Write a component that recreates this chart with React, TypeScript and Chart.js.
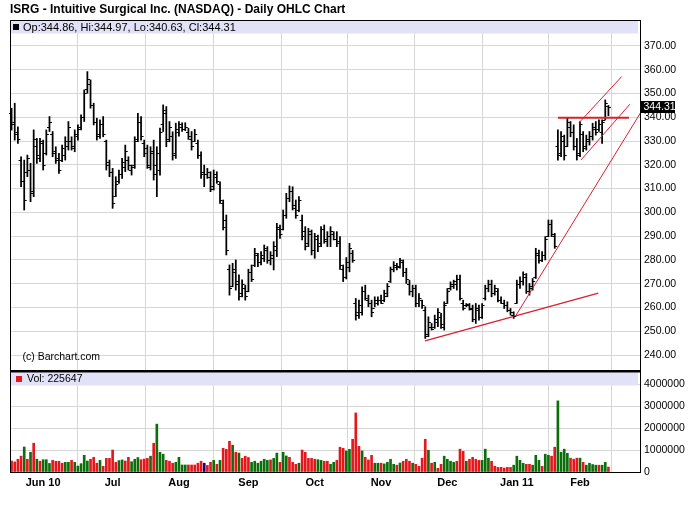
import { useEffect, useRef } from "react"
import { Chart, registerables } from "chart.js"

Chart.register(...registerables)

// one entry per trading day, 17 May 2010 (index 0) .. 14 Feb 2011 (index 189)
const highs = [
  343.8, 345.9, 336.0, 323.4, 322.0, 324.1, 320.6, 334.7, 331.1, 331.1,
  330.4, 334.7, 340.3, 334.0, 327.6, 324.8, 328.3, 331.8, 338.2, 331.8,
  334.7, 336.8, 341.0, 351.5, 359.2, 355.7, 345.9, 339.6, 338.9, 340.3,
  330.4, 322.0, 318.5, 315.0, 317.8, 322.7, 328.3, 323.4, 319.9, 331.8,
  341.7, 340.3, 330.4, 328.3, 327.6, 330.4, 327.6, 335.4, 345.2, 344.5,
  338.2, 333.9, 337.5, 338.2, 337.7, 337.7, 335.4, 334.0, 334.9, 330.4,
  325.5, 319.9, 318.5, 317.1, 317.8, 317.1, 312.9, 305.2, 298.9, 277.9,
  278.6, 280.0, 273.7, 271.6, 269.4, 276.1, 277.9, 284.9, 282.8, 283.5,
  286.3, 285.6, 283.5, 287.7, 295.4, 294.7, 301.0, 308.0, 311.1, 310.8,
  305.2, 306.6, 298.9, 294.0, 293.3, 292.6, 291.2, 290.5, 294.0, 294.7,
  291.9, 294.0, 291.9, 291.9, 289.8, 277.9, 281.0, 287.0, 284.0, 263.8,
  263.1, 268.7, 269.4, 265.2, 263.1, 264.5, 264.5, 265.2, 267.3, 270.1,
  277.0, 279.3, 278.6, 280.7, 280.0, 276.5, 271.5, 269.4, 269.4, 265.9,
  263.1, 260.3, 256.1, 253.3, 256.8, 259.6, 257.5, 262.4, 268.0, 270.8,
  271.5, 273.6, 273.6, 263.1, 261.7, 261.7, 261.0, 261.7, 261.0, 261.7,
  269.4, 271.5, 271.5, 269.4, 268.0, 264.5, 263.1, 262.4, 259.6, 258.2,
  271.5, 272.9, 275.0, 274.3, 270.1, 272.2, 284.9, 284.2, 283.5, 289.8,
  296.8, 296.8, 291.2, 334.7, 334.0, 332.5, 339.6, 338.2, 336.8, 331.1,
  338.2, 334.0, 332.5, 334.0, 337.5, 338.2, 338.9, 338.9, 347.3, 344.97,
]

const lows = [
  334.6, 330.4, 329.0, 310.8, 301.0, 315.0, 304.5, 306.6, 320.6, 321.3,
  317.8, 324.1, 334.0, 323.4, 320.6, 316.4, 321.3, 322.0, 326.2, 326.2,
  325.5, 330.4, 334.7, 338.2, 350.1, 343.8, 336.8, 330.4, 331.1, 331.8,
  317.8, 315.0, 301.7, 306.6, 312.2, 314.3, 317.1, 317.8, 315.7, 318.5,
  329.7, 330.4, 323.4, 318.5, 317.8, 313.6, 306.6, 315.7, 334.0, 327.6,
  329.7, 322.0, 322.7, 332.0, 334.0, 334.4, 330.7, 326.2, 329.8, 322.7,
  314.3, 310.8, 314.3, 308.7, 309.4, 312.2, 303.8, 292.6, 282.1, 265.2,
  268.7, 267.3, 263.1, 264.5, 263.1, 266.6, 270.9, 277.2, 277.2, 277.9,
  279.3, 278.6, 277.9, 275.8, 281.4, 289.1, 292.6, 297.5, 304.5, 301.0,
  297.5, 300.3, 288.4, 284.2, 285.6, 282.1, 280.7, 283.5, 285.6, 287.0,
  285.6, 285.6, 288.4, 285.6, 276.0, 270.9, 272.0, 275.0, 279.0, 254.7,
  255.4, 256.8, 263.1, 260.3, 256.1, 260.3, 261.0, 261.7, 262.4, 264.5,
  270.5, 275.0, 275.8, 276.5, 273.0, 270.1, 265.2, 264.5, 260.3, 260.3,
  259.6, 247.0, 247.7, 250.5, 251.2, 251.9, 251.2, 250.5, 261.7, 267.3,
  268.0, 267.3, 263.1, 258.9, 260.3, 258.9, 254.0, 253.3, 254.7, 255.4,
  263.1, 266.6, 264.5, 265.2, 262.4, 261.7, 259.6, 258.2, 256.8, 255.4,
  261.7, 268.0, 269.4, 265.9, 265.2, 267.3, 272.2, 278.6, 279.3, 280.0,
  289.8, 289.8, 284.9, 322.0, 323.4, 322.0, 327.6, 331.8, 326.2, 322.0,
  323.4, 325.5, 326.2, 328.3, 330.4, 332.5, 334.0, 329.0, 338.9, 340.63,
]

const opens = [
  342, 338, 334, 322, 313, 317, 318, 309, 328, 323,
  329, 325, 336, 333, 326, 323, 322, 324, 328, 330,
  327, 332, 336, 340, 352, 354, 345, 338, 333, 337,
  330, 321, 317, 307, 313, 316, 319, 322, 318, 320,
  331, 338, 329, 327, 319, 326, 320, 318, 337, 342,
  331, 332, 325, 334, 336, 335, 334, 331, 330, 329,
  324, 317, 316, 315, 311, 315, 312, 304, 297, 276,
  269, 275, 271, 266, 268, 267, 275, 278, 282, 279,
  281, 284, 280, 281, 284, 293, 293, 299, 306, 309,
  302, 301, 297, 292, 287, 291, 284, 289, 287, 293,
  288, 290, 291, 289, 288, 276, 273, 277, 283, 262,
  258, 258, 267, 263, 262, 260, 262, 263, 263, 265,
  271, 276, 277, 277, 279, 275, 270, 267, 268, 262,
  263, 259, 249, 252, 252, 254, 256, 252, 262, 268,
  269, 270, 272, 262, 261, 261, 260, 255, 259, 256,
  264, 268, 270, 266, 267, 263, 262, 261, 259, 257,
  262, 270, 271, 273, 267, 268, 273, 282, 280, 282,
  290, 295, 290, 328, 325, 330, 328, 336, 334, 328,
  325, 333, 328, 330, 332, 335, 335, 334, 339, 344.86,
]

const closes = [
  337, 333, 331, 313, 305, 323, 308, 331, 324, 330,
  320, 333, 338, 325, 322, 318, 327, 330, 336, 328,
  333, 335, 340, 350, 356, 345, 338, 332, 337, 333,
  320, 317, 304, 312, 316, 321, 326, 320, 319, 330,
  338, 332, 325, 320, 325, 316, 325, 334, 343, 330,
  336, 324, 335, 337, 335, 336, 332, 328, 333, 324,
  316, 316, 317, 310, 316, 313, 305, 294, 284, 268,
  276, 270, 265, 270, 265, 275, 272, 283, 279, 282,
  285, 280, 282, 286, 294, 291, 299, 306, 309, 303,
  299, 305, 290, 286, 292, 284, 290, 286, 293, 289,
  290, 292, 289, 287, 278, 273, 279, 285, 280, 257,
  261, 267, 264, 262, 258, 263, 263, 262, 266, 269,
  276, 278, 277.5, 280, 275, 272, 267, 268, 262, 264,
  261, 248, 254, 251, 255, 258, 253, 261, 267, 270,
  271, 272, 264, 260, 261.5, 259.5, 255, 260, 256, 261,
  268, 270, 266, 268, 263, 262, 261, 259, 258, 256.5,
  270, 271, 274, 267, 269, 271, 283, 280, 282, 289,
  295, 291, 286, 324, 332, 324, 338, 334, 328, 324,
  337, 327, 331, 332, 336, 334, 337, 338, 346, 344.31,
]

// daily volume in millions of shares
const volumesM = [
  0.50, 0.46, 0.58, 0.72, 1.14, 0.58, 0.90, 1.31, 0.58, 0.49,
  0.56, 0.56, 0.39, 0.53, 0.49, 0.49, 0.40, 0.44, 0.44, 0.53,
  0.44, 0.27, 0.38, 0.76, 0.50, 0.58, 0.67, 0.40, 0.53, 0.26,
  0.62, 0.62, 1.00, 0.44, 0.52, 0.55, 0.50, 0.67, 0.47, 0.58,
  0.66, 0.56, 0.59, 0.62, 0.72, 1.31, 2.18, 0.90, 0.81, 0.53,
  0.49, 0.40, 0.44, 0.67, 0.32, 0.32, 0.32, 0.32, 0.32, 0.40,
  0.49, 0.40, 0.30, 0.44, 0.53, 0.35, 0.53, 1.08, 1.03, 1.40,
  1.22, 0.90, 0.86, 0.62, 0.72, 0.66, 0.44, 0.49, 0.40, 0.49,
  0.58, 0.53, 0.55, 0.62, 0.86, 0.44, 0.90, 0.73, 0.67, 0.44,
  0.35, 0.40, 1.00, 0.90, 0.62, 0.62, 0.58, 0.56, 0.53, 0.49,
  0.49, 0.35, 0.44, 0.53, 1.13, 1.08, 0.96, 1.03, 1.49, 2.69,
  1.17, 0.96, 0.67, 0.55, 0.76, 0.40, 0.40, 0.40, 0.37, 0.44,
  0.58, 0.35, 0.31, 0.41, 0.49, 0.58, 0.49, 0.40, 0.35, 0.26,
  0.63, 1.49, 0.99, 0.40, 0.44, 0.17, 0.35, 0.72, 0.58, 0.49,
  0.44, 0.49, 1.04, 0.94, 0.49, 0.58, 0.67, 0.58, 0.53, 0.53,
  1.04, 0.63, 0.49, 0.26, 0.21, 0.21, 0.18, 0.21, 0.21, 0.31,
  0.72, 0.53, 0.40, 0.35, 0.35, 0.31, 0.76, 0.53, 0.26, 0.81,
  0.76, 0.72, 1.13, 3.24, 0.90, 1.04, 0.85, 0.63, 0.58, 0.63,
  0.63, 0.44, 0.31, 0.40, 0.34, 0.31, 0.31, 0.31, 0.44, 0.225647,
]

// r = down, g = up, b = unchanged
const volumeColorCodes = (
  "rrrrgrgrgrg" + "ggrrrrggrg" + "ggggrrrgrr" + "rrrggrrggg" + "rrrgrgggrr" +
  "rggggrrrrr" + "brrgrgrrrg" + "rgrrrggggg" + "grggrggrrr" + "grrrrrggrr" +
  "ggrrrgg" +
  "rrrgrrrggr" + "ggggrgrrrg" + "rrrrgrgrrg" + "gggrrrgrrr" + "rgggrrrrrr" +
  "rggggrrggg" + "rggrrggggr" + "rrgrggggrg" + "gr"
).split("")

const monthTickDays = [10, 32, 53, 75, 96, 117, 138, 160, 180]
const monthLabels = ["Jun 10", "Jul", "Aug", "Sep", "Oct", "Nov", "Dec", "Jan 11", "Feb"]
const priceTicks = [240, 250, 260, 270, 280, 290, 300, 310, 320, 330, 340, 350, 360, 370]
const volumeTicks = [0, 1000000, 2000000, 3000000, 4000000]

// hand drawn trend lines, [day index, price]
const resistanceLine = [[173, 339.8], [195.5, 339.8]]
const channelTop = [[179.7, 337.7], [193.2, 357.1]]
const channelBottom = [[180.3, 322.0], [195.8, 345.5]]
const steepSupport = [[159.4, 256.0], [199.6, 342.8]]
const baseSupport = [[130.9, 246.0], [185.8, 266.0]]

const FONT = "'Liberation Sans', Arial, sans-serif"
const GRID = "#d6d6d6"
const STRIP = "#e1e1f8"
const VOL_COLORS: Record<string, string> = { r: "#e3171c", g: "#0b6e0b", b: "#000080" }

const toPoints = (line: number[][]) => line.map(([x, y]) => ({ x, y }))

const ohlcTicks = {
  id: "ohlcTicks",
  afterDatasetsDraw(chart: any) {
    const { ctx } = chart
    const x = chart.scales.x
    const y = chart.scales.y
    ctx.save()
    ctx.strokeStyle = "#000"
    ctx.lineWidth = 1
    ctx.beginPath()
    for (let i = 0; i < highs.length; i++) {
      const px = x.getPixelForValue(i)
      const yo = Math.round(y.getPixelForValue(opens[i])) + 0.5
      const yc = Math.round(y.getPixelForValue(closes[i])) + 0.5
      ctx.moveTo(px - 2.5, yo)
      ctx.lineTo(px, yo)
      ctx.moveTo(px, yc)
      ctx.lineTo(px + 2.5, yc)
    }
    ctx.stroke()
    ctx.restore()
  },
}

const frame = {
  id: "frame",
  beforeDatasetsDraw(chart: any) {
    const { ctx, chartArea } = chart
    const vol = chart.scales.yv
    const last = highs.length - 1
    ctx.save()
    ctx.fillStyle = STRIP
    ctx.fillRect(chartArea.left + 1, chartArea.top + 1, chartArea.width - 3, 12.5)
    ctx.fillRect(chartArea.left + 1, vol.top + 1.5, chartArea.width - 3, 13)

    ctx.textBaseline = "middle"
    ctx.fillStyle = "#000"
    ctx.fillRect(13, 24, 6, 6)
    ctx.font = `11px ${FONT}`
    ctx.fillText(
      `Op:${opens[last].toFixed(2)}, Hi:${highs[last].toFixed(2)}, Lo:${lows[last].toFixed(2)}, Cl:${closes[last].toFixed(2)}`,
      23,
      27.5
    )
    ctx.fillStyle = VOL_COLORS.r
    ctx.fillRect(16, 376, 6, 6)
    ctx.fillStyle = "#000"
    ctx.font = `10.5px ${FONT}`
    ctx.fillText(`Vol: ${Math.round(volumesM[last] * 1000000)}`, 27, 379.5)
    ctx.fillText("(c) Barchart.com", 22.5, 357)
    ctx.restore()
  },
  afterDraw(chart: any) {
    const { ctx, chartArea } = chart
    const y = chart.scales.y
    const last = closes.length - 1
    ctx.save()
    ctx.strokeStyle = "#000"
    ctx.lineWidth = 1
    ctx.beginPath()
    ctx.moveTo(chartArea.left, chartArea.top + 0.5)
    ctx.lineTo(chartArea.right, chartArea.top + 0.5)
    ctx.moveTo(chartArea.left + 0.5, chartArea.top)
    ctx.lineTo(chartArea.left + 0.5, chartArea.bottom)
    ctx.stroke()
    ctx.fillStyle = "#000"
    ctx.fillRect(chartArea.left, y.bottom - 1, chartArea.width, 2.5)

    ctx.font = `bold 12px ${FONT}`
    ctx.textBaseline = "middle"
    ctx.fillText("ISRG - Intuitive Surgical Inc. (NASDAQ) - Daily OHLC Chart", 10, 9.5)

    const py = y.getPixelForValue(closes[last])
    ctx.fillRect(chartArea.right + 1, Math.round(py) - 6, 34, 12)
    ctx.fillStyle = "#fff"
    ctx.font = `10.5px ${FONT}`
    ctx.fillText(closes[last].toFixed(2), chartArea.right + 3.5, py + 0.5)
    ctx.restore()
  },
}

export default function App() {
  const canvasRef = useRef<HTMLCanvasElement>(null)
  const chartRef = useRef<Chart | null>(null)

  useEffect(() => {
    if (!canvasRef.current) return
    if (chartRef.current) chartRef.current.destroy()

    const trend = (line: number[][], width: number) => ({
      type: "line" as const,
      data: toPoints(line),
      yAxisID: "y",
      borderColor: "#d8202e",
      borderWidth: width,
      pointRadius: 0,
      order: 0,
    })

    const axisFont = { family: FONT, size: 10.5 }

    chartRef.current = new Chart(canvasRef.current, {
      type: "bar",
      data: {
        datasets: [
          trend(resistanceLine, 2),
          trend(channelTop, 1),
          trend(channelBottom, 1),
          trend(steepSupport, 1),
          trend(baseSupport, 1.3),
          {
            type: "bar",
            data: highs.map((h, i) => ({ x: i, y: [lows[i], h] })),
            yAxisID: "y",
            backgroundColor: "#000",
            barThickness: 1.1,
            grouped: false,
            order: 1,
          },
          {
            type: "bar",
            data: volumesM.map((v, i) => ({ x: i, y: v * 1000000 })),
            yAxisID: "yv",
            backgroundColor: volumeColorCodes.map((c) => VOL_COLORS[c]),
            barThickness: 2,
            grouped: false,
            order: 1,
          },
        ] as any,
      },
      options: {
        animation: false,
        responsive: true,
        maintainAspectRatio: false,
        events: [],
        layout: { padding: { left: 10, top: 20, right: 0, bottom: 0 } },
        plugins: { legend: { display: false }, tooltip: { enabled: false } },
        scales: {
          x: {
            type: "linear",
            min: -0.5,
            max: 199,
            offset: false,
            grid: { color: GRID, drawTicks: false },
            border: { color: "#000" },
            ticks: {
              autoSkip: false,
              maxRotation: 0,
              padding: 4,
              color: "#000",
              font: { family: FONT, size: 11, weight: "bold" },
              callback: (v: any) => monthLabels[monthTickDays.indexOf(v)] ?? "",
            },
            afterBuildTicks: (axis: any) => {
              axis.ticks = monthTickDays.map((v) => ({ value: v }))
            },
            afterFit: (axis: any) => {
              axis.height = 40
            },
          },
          y: {
            type: "linear",
            position: "right",
            stack: "panels",
            stackWeight: 351,
            weight: 1,
            min: 233.3,
            max: 380.9,
            grid: { color: GRID, drawTicks: false },
            border: { color: "#000" },
            ticks: {
              autoSkip: false,
              padding: 4,
              color: "#000",
              font: axisFont,
              callback: (v: any) => Number(v).toFixed(2),
            },
            afterBuildTicks: (axis: any) => {
              axis.ticks = priceTicks.map((v) => ({ value: v }))
            },
            afterFit: (axis: any) => {
              axis.width = 60
            },
          },
          yv: {
            type: "linear",
            position: "right",
            stack: "panels",
            stackWeight: 101,
            weight: 2,
            min: 0,
            max: 4600000,
            grid: { color: GRID, drawTicks: false },
            border: { color: "#000" },
            ticks: {
              autoSkip: false,
              padding: 4,
              color: "#000",
              font: axisFont,
              callback: (v: any) => String(v),
            },
            afterBuildTicks: (axis: any) => {
              axis.ticks = volumeTicks.map((v) => ({ value: v }))
            },
            afterFit: (axis: any) => {
              axis.width = 60
            },
          },
        },
      } as any,
      plugins: [frame, ohlcTicks],
    })

    return () => {
      if (chartRef.current) {
        chartRef.current.destroy()
        chartRef.current = null
      }
    }
  }, [])

  return (
    <div style={{ position: "absolute", left: 0, top: 0, width: 700, height: 512, background: "#fff" }}>
      <canvas ref={canvasRef} />
    </div>
  )
}
